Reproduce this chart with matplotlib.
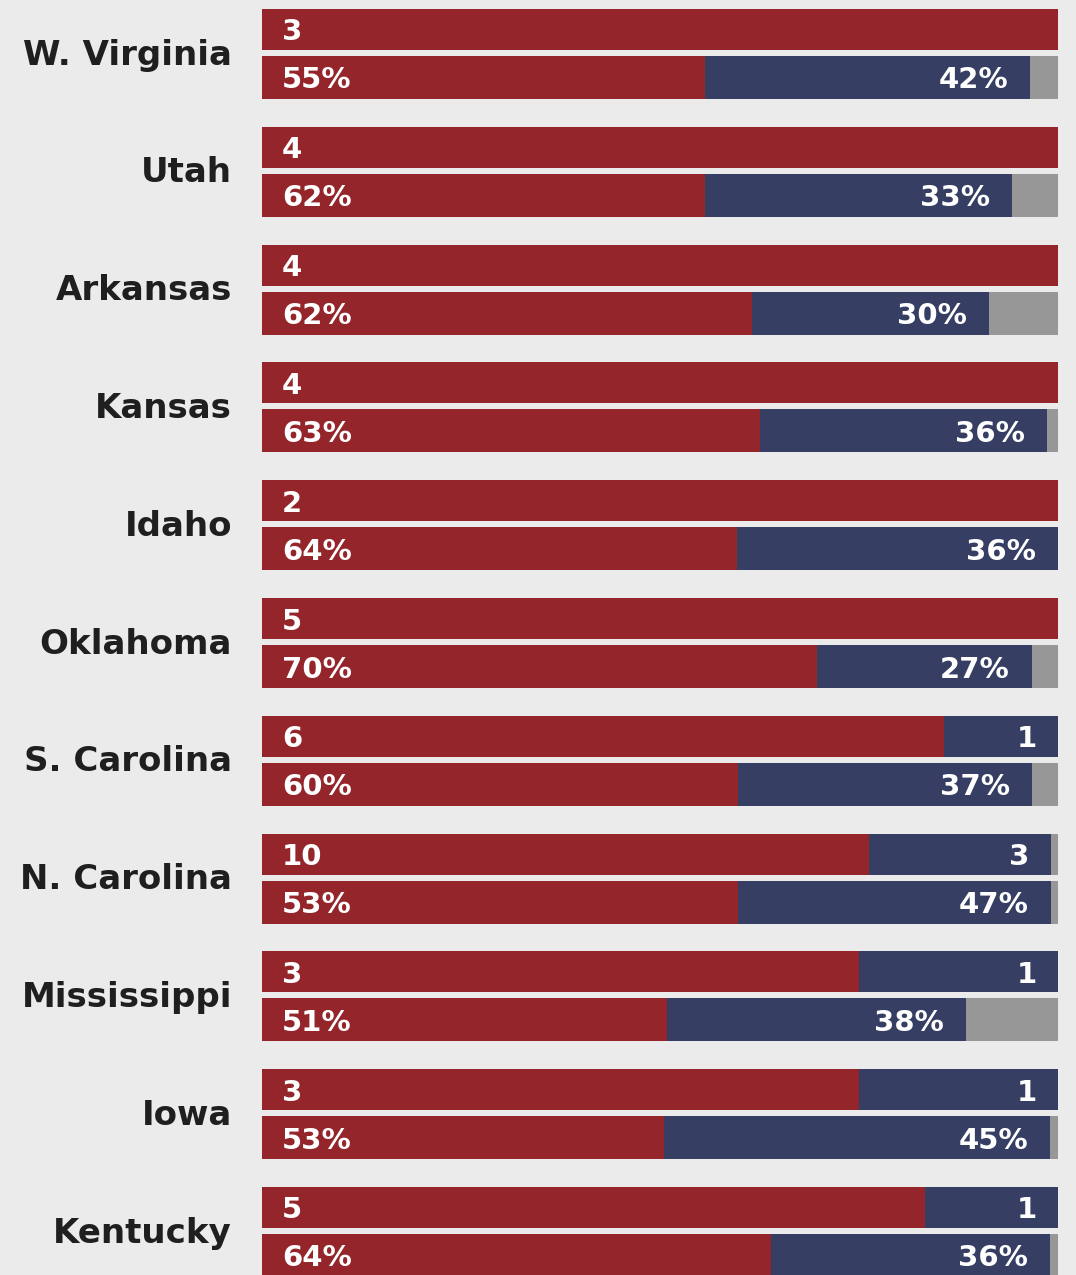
import matplotlib.pyplot as plt
from matplotlib.patches import Rectangle

states = ['W. Virginia', 'Utah', 'Arkansas', 'Kansas', 'Idaho', 'Oklahoma',
          'S. Carolina', 'N. Carolina', 'Mississippi', 'Iowa', 'Kentucky']

# House seats won
rep_seats = [3, 4, 4, 4, 2, 5, 6, 10, 3, 3, 5]
dem_seats = [0, 0, 0, 0, 0, 0, 1, 3, 1, 1, 1]
seat_span = [1, 1, 1, 1, 1, 1, 1, 0.991, 1, 1, 1]

# vote share as printed
rep_pct = [55, 62, 62, 63, 64, 70, 60, 53, 51, 53, 64]
dem_pct = [42, 33, 30, 36, 36, 27, 37, 47, 38, 45, 36]
# vote share bar lengths as drawn in the graphic
rep_bar = [0.557, 0.557, 0.616, 0.626, 0.597, 0.697, 0.598, 0.598, 0.509, 0.505, 0.64]
dem_bar = [0.408, 0.385, 0.297, 0.36, 0.403, 0.27, 0.369, 0.393, 0.375, 0.485, 0.35]

RED = '#94252b'
BLUE = '#363f63'
GRAY = '#979797'
BG = '#ebebeb'

W, H = 1076, 1275
fig = plt.figure(figsize=(W / 100, H / 100), dpi=100, facecolor=BG)
ax = fig.add_axes([262 / W, 0, 796 / W, 1])
ax.set_facecolor(BG)
ax.set_xlim(0, 1)
ax.set_ylim(H, 0)
ax.axis('off')

pitch = 117.8
seat_h = 41
vote_h = 43
gap = 6
pad = 20 / 796
lab_font = dict(color='white', fontsize=21, fontweight='bold', va='center')

for i, st in enumerate(states):
    top = 9 + i * pitch
    y2 = top + seat_h + gap

    # seats bar
    tot = rep_seats[i] + dem_seats[i]
    r = rep_seats[i] / tot * seat_span[i]
    d = dem_seats[i] / tot * seat_span[i]
    ax.add_patch(Rectangle((0, top), 1, seat_h, color=GRAY, lw=0))
    ax.add_patch(Rectangle((0, top), r, seat_h, color=RED, lw=0))
    ax.add_patch(Rectangle((r, top), d, seat_h, color=BLUE, lw=0))
    ax.text(pad, top + seat_h / 2 + 3, str(rep_seats[i]), ha='left', **lab_font)
    if dem_seats[i]:
        ax.text(r + d - pad * 1.05, top + seat_h / 2 + 3, str(dem_seats[i]), ha='right', **lab_font)

    # vote bar
    ax.add_patch(Rectangle((0, y2), 1, vote_h, color=GRAY, lw=0))
    ax.add_patch(Rectangle((0, y2), rep_bar[i], vote_h, color=RED, lw=0))
    ax.add_patch(Rectangle((rep_bar[i], y2), dem_bar[i], vote_h, color=BLUE, lw=0))
    ax.text(pad, y2 + vote_h / 2 + 3, f'{rep_pct[i]}%', ha='left', **lab_font)
    ax.text(rep_bar[i] + dem_bar[i] - pad * 1.1, y2 + vote_h / 2 + 3, f'{dem_pct[i]}%',
            ha='right', **lab_font)

    # state name
    ax.text(-30 / 796, top + seat_h + gap / 2 + 2, st, ha='right', va='center',
            fontsize=24.5, fontweight='bold', color='#1f1f1f', clip_on=False)

fig.savefig('out.png', dpi=100, facecolor=BG)
